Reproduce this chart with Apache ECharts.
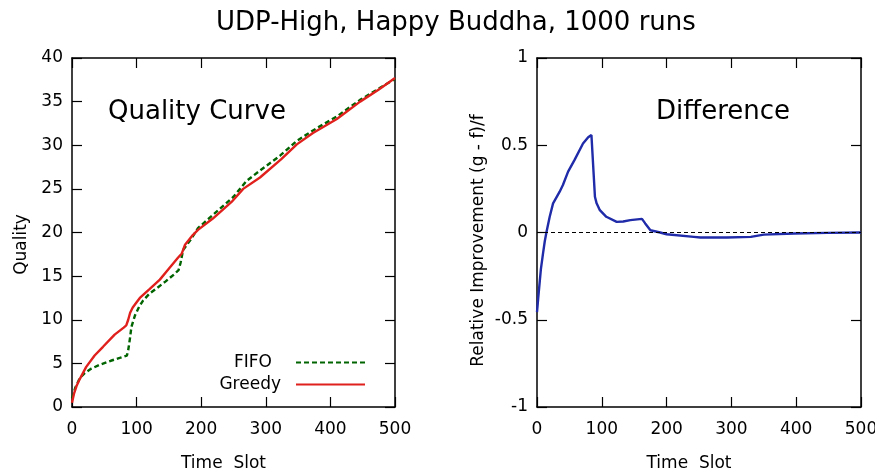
<!DOCTYPE html>
<html>
<head>
<meta charset="utf-8">
<script src="https://cdn.jsdelivr.net/npm/echarts@6/dist/echarts.min.js"></script>
<style>
  html, body { margin: 0; padding: 0; background: #fff; }
  #chart { width: 875px; height: 474px; }
</style>
</head>
<body>
<div id="chart"></div>
<script>
// Quality curves (time slot -> quality) for the two schedulers
const fifoT = [0, 5, 12, 20, 30, 43, 60, 75, 85, 87, 90, 92, 97.5, 104, 110, 120, 131, 145, 158, 165, 168, 172, 183, 195, 218, 250, 270, 291, 322, 348, 373, 410, 446, 475, 500];
const fifoQ = [1.0, 2.2, 3.3, 3.9, 4.4, 4.85, 5.3, 5.65, 5.9, 6.5, 8.0, 9.2, 10.5, 11.5, 12.2, 13.0, 13.6, 14.4, 15.2, 15.7, 16.5, 18.0, 19.1, 20.5, 22.0, 24.1, 25.9, 27.1, 28.8, 30.5, 31.7, 33.3, 35.2, 36.5, 37.6];

const greedyT = [0, 3, 7, 12, 22, 35, 48, 66, 80, 84, 87, 90, 94, 100, 105, 120, 136, 146, 164, 170, 175, 187, 195, 218, 247, 265, 291, 324, 348, 373, 410, 446, 475, 500];
const greedyQ = [0.5, 1.5, 2.4, 3.2, 4.6, 5.9, 6.9, 8.3, 9.1, 9.35, 10.0, 10.8, 11.4, 12.0, 12.5, 13.5, 14.6, 15.5, 17.1, 17.6, 18.6, 19.7, 20.3, 21.6, 23.5, 25.0, 26.3, 28.4, 30.1, 31.4, 33.0, 35.0, 36.4, 37.7];

// Relative improvement (g - f)/f over time
const diffT = [0, 2, 4, 6, 9.3, 12, 14.5, 19.6, 24.8, 35, 40, 48, 58, 71, 79, 84, 86, 89.4, 92, 97, 107, 123, 133, 144, 162, 167, 175, 190, 200, 242, 252, 293, 330, 350, 397, 448, 500];
const diffV = [-0.456, -0.37, -0.29, -0.21, -0.12, -0.05, 0, 0.09, 0.167, 0.234, 0.272, 0.349, 0.416, 0.51, 0.546, 0.559, 0.557, 0.205, 0.167, 0.128, 0.09, 0.061, 0.063, 0.071, 0.078, 0.052, 0.013, 0, -0.01, -0.025, -0.029, -0.029, -0.025, -0.012, -0.006, -0.002, 0];

// Axis ranges and tick spacing
const timeRange = [0, 500, 100];
const qualityRange = [0, 40, 5];
const diffRange = [-1, 1, 0.5];

const titleText = 'UDP-High, Happy Buddha, 1000 runs';
const FONT = 'DejaVu Sans';

const pairs = (xs, ys) => xs.map((x, i) => [x, ys[i]]);

const frameLine = { show: true, onZero: false, lineStyle: { color: '#000', width: 1.5 } };
const tickIn = { show: true, inside: true, length: 10, lineStyle: { color: '#000', width: 1.2 } };
const labelStyle = { color: '#000', fontSize: 17, fontFamily: FONT };

function xAxes(grid) {
  return [
    {
      gridIndex: grid, type: 'value', position: 'bottom',
      min: timeRange[0], max: timeRange[1], interval: timeRange[2],
      axisLine: frameLine, axisTick: tickIn, splitLine: { show: false },
      axisLabel: Object.assign({ margin: 14 }, labelStyle),
      name: 'Time  Slot', nameLocation: 'middle', nameGap: 48,
      nameTextStyle: { color: '#000', fontSize: 17, fontFamily: FONT, padding: [0, 20, 0, 0] }
    },
    {
      gridIndex: grid, type: 'value', position: 'top',
      min: timeRange[0], max: timeRange[1], interval: timeRange[2],
      axisLine: frameLine, axisTick: tickIn, splitLine: { show: false },
      axisLabel: { show: false }
    }
  ];
}

function yAxes(grid, range, name, gap, namePad) {
  return [
    {
      gridIndex: grid, type: 'value', position: 'left',
      min: range[0], max: range[1], interval: range[2],
      axisLine: frameLine, axisTick: tickIn, splitLine: { show: false },
      axisLabel: Object.assign({ margin: 9 }, labelStyle),
      name: name, nameLocation: 'middle', nameGap: gap,
      nameTextStyle: { color: '#000', fontSize: 17, fontFamily: FONT, padding: namePad }
    },
    {
      gridIndex: grid, type: 'value', position: 'right',
      min: range[0], max: range[1], interval: range[2],
      axisLine: frameLine, axisTick: tickIn, splitLine: { show: false },
      axisLabel: { show: false }
    }
  ];
}

const legendBase = {
  orient: 'vertical', align: 'right', right: 509, padding: 0,
  itemWidth: 69, itemHeight: 14, selectedMode: false,
  itemStyle: { opacity: 0 }
};

const chart = echarts.init(document.getElementById('chart'), null, { renderer: 'canvas' });

chart.setOption({
  backgroundColor: '#fff',
  animation: false,
  textStyle: { fontFamily: FONT },
  title: {
    text: titleText, left: 211, top: 5,
    textStyle: { color: '#000', fontSize: 26, fontWeight: 'normal', fontFamily: FONT }
  },
  grid: [
    { left: 72, right: 480, top: 58, bottom: 67, outerBoundsMode: 'none' },
    { left: 537, right: 14, top: 58, bottom: 67, outerBoundsMode: 'none' }
  ],
  xAxis: [...xAxes(0), ...xAxes(1)],
  yAxis: [
    ...yAxes(0, qualityRange, 'Quality', 42, [0, 24, 0, 0]),
    ...yAxes(1, diffRange, 'Relative Improvement (g - f)/f', 50, [0, 16, 0, 0])
  ],
  legend: [
    Object.assign({}, legendBase, {
      data: ['FIFO'], top: 354,
      textStyle: { color: '#000', fontSize: 17, fontFamily: FONT, padding: [0, 19, 0, 0] }
    }),
    Object.assign({}, legendBase, {
      data: ['Greedy'], top: 376,
      textStyle: { color: '#000', fontSize: 17, fontFamily: FONT, padding: [0, 10, 0, 0] }
    })
  ],
  graphic: [
    {
      type: 'text', left: 108, top: 99,
      style: { text: 'Quality Curve', fill: '#000', fontSize: 26, fontFamily: FONT }
    },
    {
      type: 'text', left: 656, top: 99,
      style: { text: 'Difference', fill: '#000', fontSize: 26, fontFamily: FONT }
    }
  ],
  series: [
    {
      name: 'FIFO', type: 'line', xAxisIndex: 0, yAxisIndex: 0,
      data: pairs(fifoT, fifoQ), showSymbol: false, symbol: 'none',
      lineStyle: { color: '#006400', width: 2.4, type: [5, 3] },
      itemStyle: { color: '#006400' }
    },
    {
      name: 'Greedy', type: 'line', xAxisIndex: 0, yAxisIndex: 0,
      data: pairs(greedyT, greedyQ), showSymbol: false, symbol: 'none',
      lineStyle: { color: '#e0201c', width: 2.4 },
      itemStyle: { color: '#e0201c' }
    },
    {
      name: 'Difference', type: 'line', xAxisIndex: 2, yAxisIndex: 2,
      data: pairs(diffT, diffV), showSymbol: false, symbol: 'none',
      lineStyle: { color: '#1f2ba8', width: 2.4 },
      itemStyle: { color: '#1f2ba8' },
      markLine: {
        silent: true, symbol: 'none', label: { show: false },
        lineStyle: { color: '#000', width: 1, type: [4, 3] },
        data: [{ yAxis: 0 }]
      },
      z: 3
    }
  ]
});
</script>
</body>
</html>
